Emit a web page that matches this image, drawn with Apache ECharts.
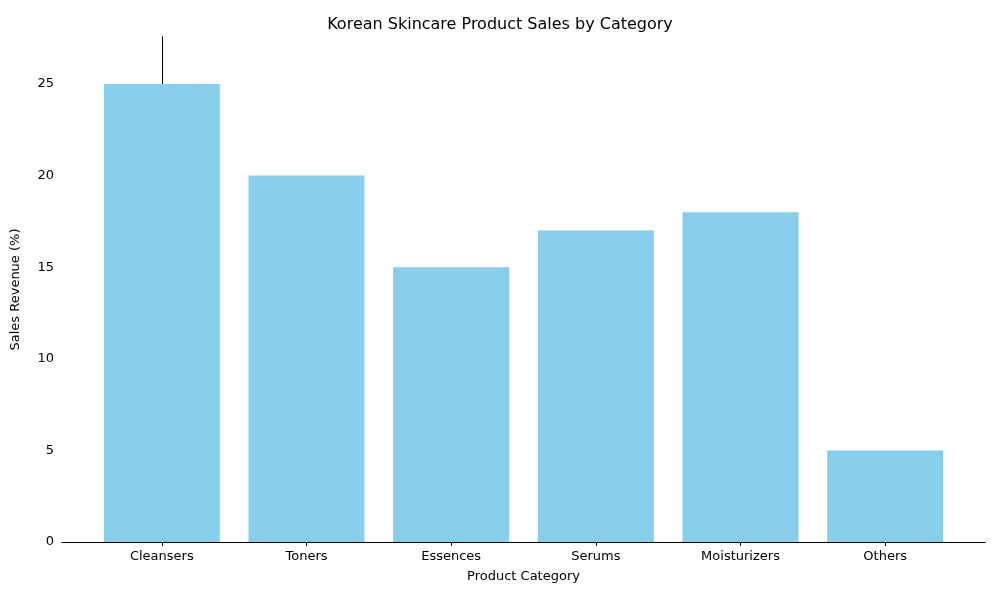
<!DOCTYPE html>
<html><head><meta charset="utf-8">
<script src="https://cdn.jsdelivr.net/npm/echarts@6/dist/echarts.min.js"></script>
<style>body{margin:0}#c{width:1000px;height:600px}</style></head>
<body><div id="c"></div>
<script>
const categories = ["Cleansers","Toners","Essences","Serums","Moisturizers","Others"];
const values = [25,20,15,17,18,5];
const yTicks = [0,5,10,15,20,25];
const font = "DejaVu Sans";
const chart = echarts.init(document.getElementById('c'));
chart.setOption({
  animation:false,
  textStyle:{fontFamily:font},
  title:{text:"Korean Skincare Product Sales by Category",left:'center',top:12,
    textStyle:{fontFamily:font,fontSize:16,fontWeight:'normal',color:'#000'}},
  grid:[{left:62,right:15,top:37,bottom:58}],
  xAxis:[{type:'value',min:-0.69,max:5.69,
    name:"Product Category",nameLocation:'middle',nameGap:28,
    nameTextStyle:{fontFamily:font,fontSize:13,color:'#000'},
    splitLine:{show:false},
    axisLine:{show:true,onZero:false,lineStyle:{color:'#000'}},
    axisTick:{show:true,customValues:[0,1,2,3,4,5],length:4,lineStyle:{color:'#000'}},
    axisLabel:{customValues:[0,1,2,3,4,5],color:'#000',fontSize:13,margin:8,
      formatter:v=>categories[Math.round(v)]}},
    {type:'value',position:'top',min:-0.69,max:5.69,axisLine:{show:true,lineStyle:{color:'#000'}},
     axisTick:{show:false},axisLabel:{show:false},splitLine:{show:false}}],
  yAxis:[{type:'value',min:0,max:27.56,
    name:"Sales Revenue (%)",nameLocation:'middle',nameGap:40,
    nameTextStyle:{fontFamily:font,fontSize:13,color:'#000'},
    splitLine:{show:false},
    axisLine:{show:true,lineStyle:{color:'#000'}},
    axisTick:{show:true,customValues:yTicks,length:4,lineStyle:{color:'#000'}},
    axisLabel:{customValues:yTicks,color:'#000',fontSize:13,margin:8}},
    {type:'value',position:'right',min:0,max:27.56,axisLine:{show:true,lineStyle:{color:'#000'}},
     axisTick:{show:false},axisLabel:{show:false},splitLine:{show:false}}],
  series:[{type:'bar',barWidth:116,itemStyle:{color:'#87CEEB'},
    data:values.map((v,i)=>[i,v])}]
});
</script></body></html>
